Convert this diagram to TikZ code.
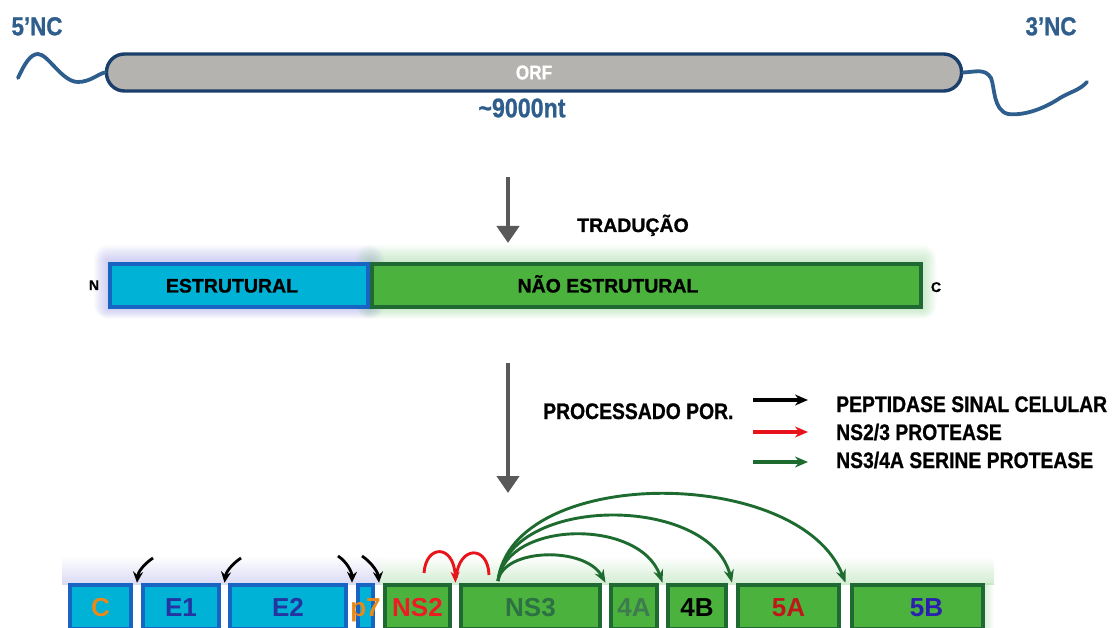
\documentclass[tikz,border=0pt]{standalone}
\usepackage{fontspec}
\setmainfont{Liberation Sans}
\newfontfamily\condsf[FakeStretch=0.86, FakeBold=0.8]{Liberation Sans}
\newfontfamily\heavysf[FakeBold=1.0]{Liberation Sans}
\usetikzlibrary{arrows.meta,calc}

\definecolor{navy}{HTML}{1B3F6B}
\definecolor{rnablue}{HTML}{2E5E8E}
\definecolor{ncblue}{HTML}{2F5D8C}
\definecolor{orfgray}{HTML}{B4B3AF}
\definecolor{arrowgray}{HTML}{595959}
\definecolor{cyanfill}{HTML}{00B2D6}
\definecolor{bluebord}{HTML}{1764C2}
\definecolor{greenfill}{HTML}{4BB33D}
\definecolor{greenbord}{HTML}{1F6A33}
\definecolor{glowblue}{HTML}{8C8CE0}
\definecolor{glowgreen}{HTML}{8FD08F}
\definecolor{orangelbl}{HTML}{E8891A}
\definecolor{navylbl}{HTML}{2434A0}
\definecolor{redlbl}{HTML}{ED1C24}
\definecolor{ns3lbl}{HTML}{2D7044}
\definecolor{a4lbl}{HTML}{3E7B50}
\definecolor{a5lbl}{HTML}{C0161B}
\definecolor{b5lbl}{HTML}{2B1FB0}
\definecolor{arcgreen}{HTML}{1E6B30}
\definecolor{arcred}{HTML}{E8141C}

\pgfdeclarelayer{bg}
\pgfsetlayers{bg,main}

\begin{document}
\begin{tikzpicture}[x=1pt,y=-1pt,
  nc/.style={font=\condsf\bfseries\fontsize{26}{28}\selectfont, text=ncblue, inner sep=0, text height=18.6pt, text depth=0pt},
  orfbox/.style={draw=navy, line width=3.4pt, fill=orfgray, rounded corners=18pt,
    minimum width=855, minimum height=37, inner sep=0, text=white,
    font=\condsf\bfseries\fontsize{20}{22}\selectfont},
  rna/.style={draw=rnablue, line width=3.8pt, line cap=round},
  bigarrow/.style={draw=arrowgray, line width=4.5pt, -{Triangle[width=22pt,length=17pt]}},
  hdr/.style={font=\heavysf\bfseries\fontsize{19.5}{21}\selectfont, inner sep=0, text height=14pt, text depth=0pt},
  term/.style={font=\heavysf\bfseries\fontsize{14}{16}\selectfont, inner sep=0, text height=10pt, text depth=0pt},
  bar/.style={line width=4pt, minimum height=43, inner sep=0},
  leg/.style={font=\condsf\bfseries\fontsize{22.5}{24}\selectfont, inner sep=0, text height=16pt, text depth=0pt, anchor=west},
  legarrow/.style={line width=3.2pt, -{Stealth[length=13pt,width=11pt]}},
  seg/.style={line width=4pt, minimum height=44.5, inner sep=0},
  segblue/.style={seg, fill=cyanfill, draw=bluebord},
  seggreen/.style={seg, fill=greenfill, draw=greenbord},
  slbl/.style={font=\bfseries\fontsize{26}{28}\selectfont, inner sep=0, text height=18.6pt, text depth=0pt},
  cut/.style={draw=black, line width=2.8pt, -{Stealth[length=11pt,width=10pt]}},
  nsarc/.style={draw=arcgreen, line width=2.9pt, -{Stealth[length=13pt,width=10pt]}},
  redarc/.style={draw=arcred, line width=2.9pt},
]
\useasboundingbox (0,0) rectangle (1114,628);
\clip (0,0) rectangle (1114,628);

% ---------- genome RNA ----------
\node[orfbox] (ORF) at (534,72.5) {ORF};
\node[nc] (n5) at (37,26) {5’NC};
\node[nc] (n3) at (1051,26) {3’NC};
\node[nc, font=\condsf\bfseries\fontsize{27}{29}\selectfont] (len) at (522,108) {\textasciitilde 9000nt};

\coordinate (t5) at (18,78);
\coordinate (t5a) at (38,54);
\coordinate (t5b) at (78,82);
\draw[rna] (t5) .. controls (24,65) and (30,54) .. (t5a)
  .. controls (48,54) and (62,82) .. (t5b)
  .. controls (90,82) and (98,74) .. (ORF.west);

\coordinate (t3a) at (991,78);
\coordinate (t3b) at (1008,114);
\coordinate (t3c) at (1060,98);
\coordinate (t3d) at (1087,82);
\draw[rna] (ORF.east) .. controls (975,72) and (985,68) .. (t3a)
  .. controls (995,88) and (993,110) .. (t3b)
  .. controls (1025,116) and (1045,108) .. (t3c)
  .. controls (1070,92) and (1080,90) .. (t3d);

% ---------- translation ----------
\coordinate (a1s) at (508,177);
\coordinate (a1e) at (508,243);
\draw[bigarrow] (a1s) -- (a1e);
\node[hdr] (trad) at (633,225) {TRADUÇÃO};

% ---------- polyprotein ----------
\node[bar, fill=cyanfill, draw=bluebord, minimum width=258] (est) at (239,285.5) {};
\node[bar, fill=greenfill, draw=greenbord, minimum width=549] (nest) at (646,285.5) {};
\node[hdr] (estlbl) at (232,285.5) {ESTRUTURAL};
\node[hdr] (nestlbl) at (608,285.5) {NÃO ESTRUTURAL};
\node[term] (Nterm) at (94,285) {N};
\node[term] (Cterm) at (936,287) {C};

\begin{pgfonlayer}{bg}
  \foreach \i in {1,...,14}{
    \fill[glowblue, opacity=0.035, rounded corners=\i pt]
      ([xshift=-\i pt, yshift=1.2*\i pt]est.north west) rectangle ([xshift=\i pt, yshift=-0.7*\i pt]est.south east);
    \fill[glowgreen, opacity=0.04, rounded corners=\i pt]
      ([xshift=-\i pt, yshift=1.2*\i pt]nest.north west) rectangle ([xshift=\i pt, yshift=-0.7*\i pt]nest.south east);
  }
\end{pgfonlayer}

% ---------- processing ----------
\coordinate (a2s) at (508,363);
\coordinate (a2e) at (508,493);
\draw[bigarrow] (a2s) -- (a2e);
\node[leg] (proc) at (543,411) {PROCESSADO POR.};

\coordinate (k1s) at (753,400);
\coordinate (k1e) at (808,400);
\coordinate (k2s) at (753,432);
\coordinate (k2e) at (808,432);
\coordinate (k3s) at (753,462);
\coordinate (k3e) at (808,462);
\draw[legarrow, draw=black] (k1s) -- (k1e);
\draw[legarrow, draw=arcred] (k2s) -- (k2e);
\draw[legarrow, draw=arcgreen] (k3s) -- (k3e);
\node[leg] (l1) at (836,404) {PEPTIDASE SINAL CELULAR};
\node[leg] (l2) at (836,432) {NS2/3 PROTEASE};
\node[leg] (l3) at (836,460) {NS3/4A SERINE PROTEASE};

% ---------- mature proteins ----------
\node[segblue, minimum width=61] (C) at (100.5,607) {};
\node[segblue, minimum width=76] (E1) at (181,607) {};
\node[segblue, minimum width=116] (E2) at (288,607) {};
\node[segblue, minimum width=15] (p7) at (365.5,607) {};
\node[seggreen, minimum width=65] (NS2) at (417.5,607) {};
\node[seggreen, minimum width=139] (NS3) at (530.5,607) {};
\node[seggreen, minimum width=46] (A4) at (634,607) {};
\node[seggreen, minimum width=58] (B4) at (697,607) {};
\node[seggreen, minimum width=101] (A5) at (788.5,607) {};
\node[seggreen, minimum width=131] (B5) at (917.5,607) {};

\node[slbl, text=orangelbl] (Cl) at (C) {C};
\node[slbl, text=navylbl] (E1l) at (E1) {E1};
\node[slbl, text=navylbl] (E2l) at (E2) {E2};
\node[slbl, text=orangelbl] (p7l) at (p7) {p7};
\node[slbl, text=redlbl] (NS2l) at (NS2) {NS2};
\node[slbl, text=ns3lbl] (NS3l) at (NS3) {NS3};
\node[slbl, text=a4lbl] (A4l) at (A4) {4A};
\node[slbl, text=black] (B4l) at (B4) {4B};
\node[slbl, text=a5lbl] (A5l) at (A5) {5A};
\node[slbl, text=b5lbl] (B5l) at ([xshift=9pt]B5.center) {5B};

\begin{pgfonlayer}{bg}
  \shade[top color=white, bottom color=glowblue!32] (62,556) rectangle (380,584);
  \shade[top color=white, bottom color=glowgreen!40] (380,556) rectangle (994,584);
  \foreach \i in {1,...,9}{
    \fill[glowgreen, opacity=0.04] ([xshift=-\i pt]B5.north east) rectangle ([xshift=\i pt]B5.south east);
  }
\end{pgfonlayer}

% cleavage sites between proteins
\coordinate (g1) at ($(C.north east)!.5!(E1.north west)$);
\coordinate (g2) at ($(E1.north east)!.5!(E2.north west)$);
\coordinate (g3) at ($(E2.north east)!.5!(p7.north west)$);
\coordinate (g4) at ($(p7.north east)!.5!(NS2.north west)$);
\coordinate (g5) at ($(NS2.north east)!.5!(NS3.north west)$);
\coordinate (g6) at ($(NS3.north east)!.5!(A4.north west)$);
\coordinate (g7) at ($(A4.north east)!.5!(B4.north west)$);
\coordinate (g8) at ($(B4.north east)!.5!(A5.north west)$);
\coordinate (g9) at ($(A5.north east)!.5!(B5.north west)$);

% signal peptidase
\coordinate (c1) at (153,558);
\coordinate (c2) at (241,558);
\coordinate (c3) at (338,556);
\coordinate (c4) at (362,556);
\draw[cut] (c1) .. controls (144,564) and (138,572) .. (g1);
\draw[cut] (c2) .. controls (232,564) and (226,572) .. (g2);
\draw[cut] (c3) .. controls (347,562) and (352,572) .. (g3);
\draw[cut] (c4) .. controls (371,562) and (378,572) .. (g4);

% NS2/3 autoprotease
\coordinate (r1) at (424,573);
\coordinate (r2) at (456,578);
\coordinate (r3) at (489,575);
\draw[redarc, -{Stealth[length=11pt,width=9pt]}] (r1) .. controls (426,544) and (454,544) .. (g5);
\draw[redarc] (r2) .. controls (459,545) and (488,545) .. (r3);

% NS3/4A serine protease
\coordinate (src) at (498,581);
\draw[nsarc] (src) .. controls (503,548) and (585,546) .. (g6);
\draw[nsarc] (src) .. controls (506,520) and (640,518) .. (g7);
\draw[nsarc] (src) .. controls (508,494) and (710,494) .. (g8);
\draw[nsarc] (src) .. controls (512,465) and (800,465) .. (g9);
\end{tikzpicture}
\end{document}
